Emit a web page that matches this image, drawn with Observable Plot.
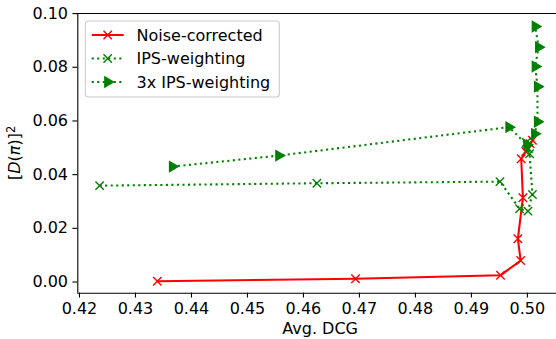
<!DOCTYPE html>
<html><head><meta charset="utf-8">
<script src="https://cdn.jsdelivr.net/npm/d3@7"></script>
<script src="https://cdn.jsdelivr.net/npm/@observablehq/plot@0.6"></script>
<style>
body{margin:0;background:#fff;}
#chart{position:relative;width:556px;height:339px;overflow:hidden;}
</style>
</head><body><div id="chart"></div>
<script>
// ---- data ----
const seriesNames = ["Noise-corrected", "IPS-weighting", "3x IPS-weighting"];
const noiseX = [0.4339, 0.4693, 0.4952, 0.4988, 0.4983, 0.4992, 0.4989, 0.4997, 0.5005, 0.5009];
const noiseY = [0.0003, 0.0012, 0.0025, 0.0080, 0.0161, 0.0314, 0.0459, 0.0486, 0.0515, 0.0528];
const ipsX   = [0.4236, 0.4624, 0.4951, 0.4986, 0.5001, 0.5009, 0.5004, 0.5002, 0.4998];
const ipsY   = [0.0359, 0.0368, 0.0374, 0.0273, 0.0264, 0.0326, 0.0478, 0.0497, 0.0520];
const ips3X  = [0.4366, 0.4556, 0.4967, 0.4999, 0.5013, 0.5018, 0.5018, 0.5014, 0.5020, 0.5014];
const ips3Y  = [0.0430, 0.0471, 0.0577, 0.0512, 0.0552, 0.0597, 0.0728, 0.0803, 0.0875, 0.0952];
const xTicks = [0.42, 0.43, 0.44, 0.45, 0.46, 0.47, 0.48, 0.49, 0.50];
const yTicks = [0.00, 0.02, 0.04, 0.06, 0.08, 0.10];
const xLabel = "Avg. DCG";

// ---- layout ----
const W = 556, H = 339;
const mL = 77.3, mR = 0, mT = 13, mB = 46.3;
const xDomain = [0.4197, 0.5052];
const yDomain = [-0.00417, 0.10004];
const FONT = "'DejaVu Sans', sans-serif";
const FS = 16;
const RED = "#ff0000", GREEN = "#008000";
const LW = 2.08, DASH = "2.08,3.44";
const R_TIMES = 3.9, R_TRI = 3.8;

const rows = (xs, ys, s) => xs.map((x, i) => ({x, y: ys[i], s}));
const noise = rows(noiseX, noiseY, seriesNames[0]);
const ips = rows(ipsX, ipsY, seriesNames[1]);
const ips3 = rows(ips3X, ips3Y, seriesNames[2]);

const chart = Plot.plot({
  width: W, height: H,
  marginLeft: mL, marginRight: mR, marginTop: mT, marginBottom: mB,
  style: {fontFamily: FONT, fontSize: FS + "px", color: "#000", background: "#fff", overflow: "visible"},
  x: {domain: xDomain},
  y: {domain: yDomain},
  marks: [
    Plot.axisX({ticks: xTicks, tickFormat: d => d.toFixed(2), tickSize: 4.9, tickPadding: 4.9,
      label: null, strokeWidth: 1.1, fontSize: FS, fill: "#000"}),
    Plot.axisY({ticks: yTicks, tickFormat: d => d.toFixed(2), tickSize: 4.9, tickPadding: 4.9,
      label: null, strokeWidth: 1.1, fontSize: FS, fill: "#000"}),
    Plot.line(noise, {x: "x", y: "y", stroke: RED, strokeWidth: LW, strokeLinecap: "butt", strokeLinejoin: "round"}),
    Plot.dot(noise, {x: "x", y: "y", symbol: "times", r: R_TIMES, stroke: RED, strokeWidth: 1.39}),
    Plot.line(ips, {x: "x", y: "y", stroke: GREEN, strokeWidth: LW, strokeDasharray: DASH, strokeLinecap: "butt"}),
    Plot.dot(ips, {x: "x", y: "y", symbol: "times", r: R_TIMES, stroke: GREEN, strokeWidth: 1.39}),
    Plot.line(ips3, {x: "x", y: "y", stroke: GREEN, strokeWidth: LW, strokeDasharray: DASH, strokeLinecap: "butt"}),
    Plot.dot(ips3, {x: "x", y: "y", symbol: "triangle", rotate: 90, r: R_TRI, fill: GREEN, stroke: GREEN, strokeWidth: 1.2}),
    // spines (right one falls outside the cropped picture)
    Plot.ruleX([xDomain[0]], {stroke: "#000", strokeWidth: 1.1}),
    Plot.ruleY([yDomain[0]], {stroke: "#000", strokeWidth: 1.1}),
    Plot.ruleY([yDomain[1]], {stroke: "#000", strokeWidth: 1.1})
  ]
});
document.getElementById("chart").appendChild(chart);

const svg = d3.select(chart);
// x label
svg.append("text")
  .attr("x", (mL + 563) / 2).attr("y", 334)
  .attr("text-anchor", "middle").attr("fill", "#000")
  .style("font-family", FONT).style("font-size", FS + "px")
  .text(xLabel);

// y label: [D(π)]²
const yl = svg.append("text")
  .attr("transform", `translate(20,${(mT + H - mB) / 2}) rotate(-90)`)
  .attr("text-anchor", "middle").attr("fill", "#000")
  .style("font-family", FONT).style("font-size", FS + "px");
yl.append("tspan").text("[");
yl.append("tspan").style("font-style", "italic").text("D");
yl.append("tspan").text("(");
yl.append("tspan").style("font-style", "italic").text("π");
yl.append("tspan").text(")]");
yl.append("tspan").attr("dy", "-0.45em").style("font-size", "11.5px").text("2");

// legend
const lg = svg.append("g");
const lx = mL + 8, ly = mT + 8;
lg.append("rect").attr("x", lx).attr("y", ly).attr("width", 194).attr("height", 76)
  .attr("rx", 3).attr("fill", "#fff").attr("fill-opacity", 0.8)
  .attr("stroke", "#cccccc").attr("stroke-width", 1.1);
const entries = [
  {name: seriesNames[0], color: RED, dash: null, sym: d3.symbolTimes, r: R_TIMES, fill: false},
  {name: seriesNames[1], color: GREEN, dash: DASH, sym: d3.symbolTimes, r: R_TIMES, fill: false},
  {name: seriesNames[2], color: GREEN, dash: DASH, sym: d3.symbolTriangle, r: R_TRI, fill: true}
];
entries.forEach((e, i) => {
  const cy = ly + 14 + i * 23.5;
  const x0 = lx + 6.4, x1 = x0 + 32;
  lg.append("line").attr("x1", x0).attr("x2", x1).attr("y1", cy).attr("y2", cy)
    .attr("stroke", e.color).attr("stroke-width", LW)
    .attr("stroke-dasharray", e.dash).attr("stroke-linecap", "butt");
  const p = d3.symbol(e.sym, Math.PI * e.r * e.r)();
  lg.append("path").attr("d", p)
    .attr("transform", `translate(${(x0 + x1) / 2},${cy})` + (e.fill ? " rotate(90)" : ""))
    .attr("fill", e.fill ? e.color : "none").attr("stroke", e.color)
    .attr("stroke-width", e.fill ? 1.2 : 1.39);
  lg.append("text").attr("x", x1 + 12.8).attr("y", cy + 5.8)
    .attr("text-anchor", "start")
    .attr("fill", "#000").style("font-family", FONT).style("font-size", FS + "px")
    .text(e.name);
});
</script>
</body></html>
